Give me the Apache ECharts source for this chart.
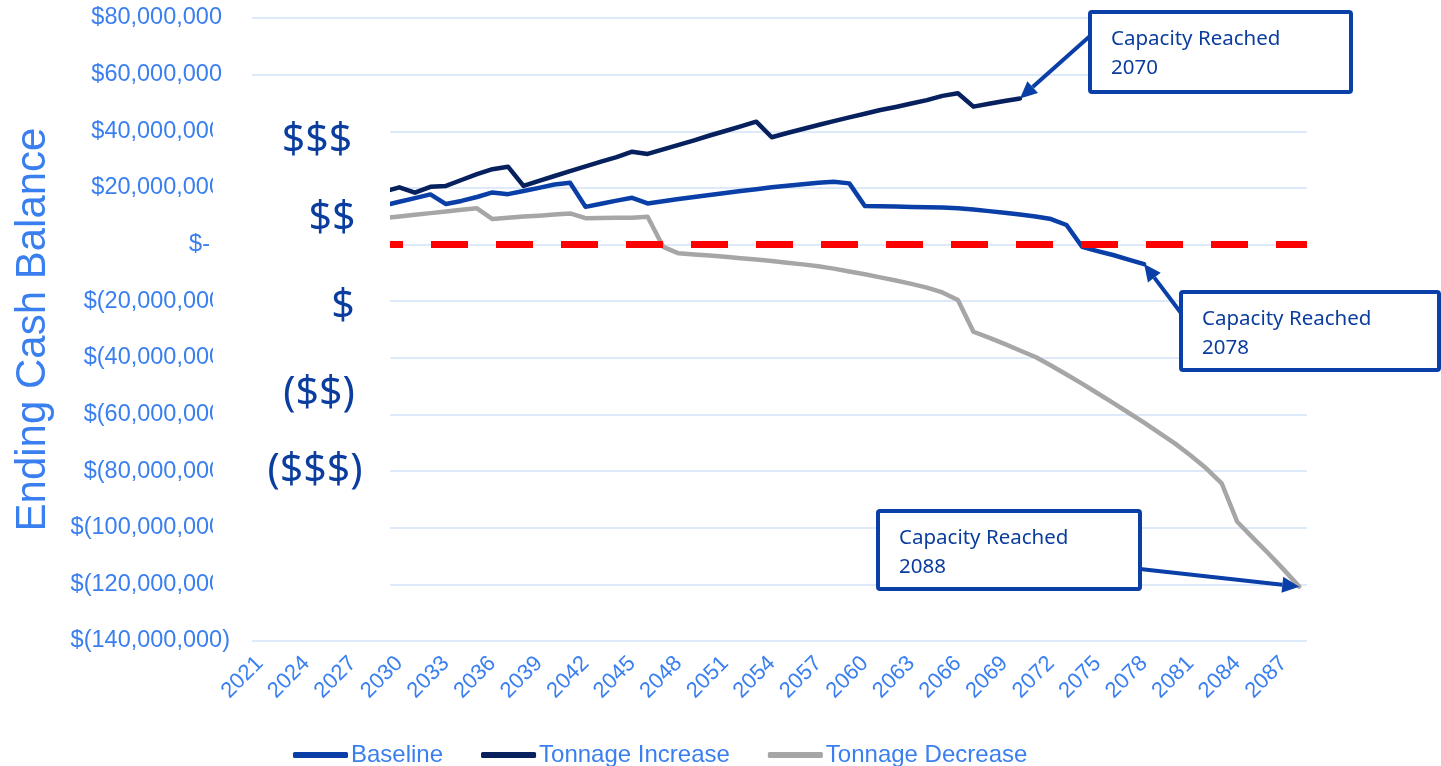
<!DOCTYPE html>
<html>
<head>
<meta charset="utf-8">
<script src="https://cdn.jsdelivr.net/npm/echarts@6/dist/echarts.min.js"></script>
<style>html,body{margin:0;padding:0;background:#fff}#c{width:1441px;height:766px}</style>
</head>
<body>
<div id="c"></div>
<script>
// ---- data (values in millions of dollars) ----
const years = [];
for (let y = 2021; y <= 2088; y++) years.push(String(y));

const firstYear = 2029;
const baseline = [13.8,15.1,16.4,17.7,14.3,15.4,16.8,18.4,17.8,18.9,20.0,21.2,21.8,13.3,14.4,15.5,16.5,14.5,15.3,16.1,16.8,17.5,18.2,18.9,19.5,20.2,20.8,21.3,21.8,22.2,21.6,13.6,13.5,13.4,13.3,13.2,13.1,12.8,12.4,11.8,11.2,10.6,9.9,9.0,6.9,-0.8,-2.3,-3.7,-5.3,-6.9];
const tonnageIncrease = [18.7,20.2,18.3,20.4,20.7,22.8,24.9,26.6,27.5,20.7,22.5,24.2,25.9,27.6,29.3,30.9,32.8,32.0,33.6,35.2,36.8,38.5,40.1,41.7,43.4,37.9,39.4,40.8,42.2,43.6,44.9,46.2,47.5,48.6,49.8,51.0,52.5,53.4,48.7,49.7,50.7,51.6];
const tonnageDecrease = [9.4,9.9,10.5,11.1,11.7,12.3,12.8,9.0,9.5,9.9,10.2,10.6,11.0,9.3,9.4,9.5,9.5,9.8,-0.8,-3.1,-3.5,-3.9,-4.3,-4.8,-5.3,-5.8,-6.4,-7.0,-7.7,-8.5,-9.5,-10.5,-11.6,-12.7,-13.9,-15.2,-16.9,-19.6,-30.8,-32.9,-35.1,-37.4,-39.7,-42.7,-45.9,-49.1,-52.5,-55.9,-59.4,-62.9,-66.6,-70.3,-74.5,-79.0,-84.3,-97.9,-103.5,-109.0,-114.8,-120.8];
const seriesNames = ['Baseline','Tonnage Increase','Tonnage Decrease'];
const sideLabels = ['$$$','$$','$','($$)','($$$)'];
const annotations = [
  {text:'Capacity Reached\n2070', series:1, year:'2070'},
  {text:'Capacity Reached\n2078', series:0, year:'2078'},
  {text:'Capacity Reached\n2088', series:2, year:'2088'}
];

function pad(arr){
  const out = years.map(()=>null);
  const off = firstYear - 2021;
  arr.forEach((v,i)=>{ out[off+i] = v; });
  return out;
}

const BLUE_TXT = '#3a7ff0';
const DARK = '#0a3d9e';
const colors = ['#0a3fa8','#06215e','#a6a6a6'];

function acct(v){
  const d = Math.round(v*1e6);
  if (d === 0) return '{z|$-}';
  const s = Math.abs(d).toLocaleString('en-US');
  return d < 0 ? '{n|$(' + s + ')}' : '{p|$' + s + '}';
}
const lblFont = {fontFamily:'Liberation Sans, Arial', fontSize:23.5, color:BLUE_TXT};

const chart = echarts.init(document.getElementById('c'), null, {renderer:'canvas'});
const option = {
  backgroundColor:'#ffffff',
  animation:false,
  color: colors,
  grid:{left:252, right:134, top:18, bottom:125, containLabel:false},
  legend:{
    left:288, top:738, itemWidth:55, itemHeight:6, itemGap:38, icon:'roundRect',
    textStyle:{fontFamily:'Liberation Sans, Arial', fontSize:24, color:BLUE_TXT, padding:[0,0,0,-2]},
    data: seriesNames
  },
  xAxis:{
    type:'category', data:years, boundaryGap:true,
    axisLine:{show:false}, axisTick:{show:false},
    axisLabel:{interval:2, rotate:45, margin:19, fontFamily:'Liberation Sans, Arial', fontSize:22, color:BLUE_TXT},
    splitLine:{show:false}
  },
  yAxis:{
    type:'value', min:-140, max:80, interval:20,
    name:'Ending Cash Balance', nameLocation:'middle', nameGap:198, nameRotate:90,
    nameTextStyle:{fontFamily:'Liberation Sans, Arial', fontSize:42, color:BLUE_TXT},
    axisLine:{show:false}, axisTick:{show:false},
    axisLabel:{margin:22, formatter:acct, ...lblFont,
      rich:{
        p:{...lblFont, padding:[0,8,0,0]},
        z:{...lblFont, padding:[0,20,0,0]},
        n:{...lblFont}
      }},
    splitLine:{lineStyle:{color:'#d3e2f8', width:1.5}}
  },
  series:[
    {name:seriesNames[0], type:'line', data:pad(baseline), showSymbol:false, symbol:'none',
     lineStyle:{width:4.5, color:colors[0], join:'round', cap:'round'}, z:3,
     markLine:{silent:true, symbol:'none', label:{show:false},
       lineStyle:{color:'#ff0000', width:7, type:[37,28], dashOffset:16},
       data:[{yAxis:0}]}},
    {name:seriesNames[1], type:'line', data:pad(tonnageIncrease), showSymbol:false, symbol:'none',
     lineStyle:{width:4.5, color:colors[1], join:'round', cap:'round'}, z:3},
    {name:seriesNames[2], type:'line', data:pad(tonnageDecrease), showSymbol:false, symbol:'none',
     lineStyle:{width:4.5, color:colors[2], join:'round', cap:'round'}, z:3}
  ]
};
chart.setOption(option);

// ---- decorations: white panel with $ scale, annotation boxes and arrows ----
const seriesData = [baseline, tonnageIncrease, tonnageDecrease];
const g = [];
g.push({type:'rect', shape:{x:213, y:107, width:177, height:500}, style:{fill:'#ffffff'}, z:50, silent:true});
const sidePos = [[317,141],[332,219],[343,307],[319,394],[315,471]];
sideLabels.forEach((t,i)=>{
  g.push({type:'text', x:sidePos[i][0], y:sidePos[i][1], z:51, silent:true,
    style:{text:t, fill:DARK, font:'41px "Noto Sans", sans-serif', textAlign:'center', textVerticalAlign:'middle'}});
});
const boxes = [
  {x:1090, y:12, w:261, h:80, from:[1090,36]},
  {x:1181, y:292, w:258, h:78, from:[1181,313]},
  {x:878, y:511, w:262, h:78, from:[1140,569]}
];
function arrow(x1,y1,x2,y2){
  const dx=x2-x1, dy=y2-y1, L=Math.hypot(dx,dy), ux=dx/L, uy=dy/L;
  const hl=17, hw=8;
  const bx=x2-ux*hl, by=y2-uy*hl;
  g.push({type:'line', z:52, silent:true, shape:{x1:x1,y1:y1,x2:bx,y2:by},
    style:{stroke:'#0a3fa8', lineWidth:4}});
  g.push({type:'polygon', z:52, silent:true,
    shape:{points:[[x2,y2],[bx-uy*hw,by+ux*hw],[bx+uy*hw,by-ux*hw]]},
    style:{fill:'#0a3fa8'}});
}
annotations.forEach((a,i)=>{
  const b = boxes[i];
  const arr = seriesData[a.series];
  const idx = Number(a.year) - firstYear;
  const p = chart.convertToPixel({seriesIndex:a.series}, [a.year, arr[idx]]);
  arrow(b.from[0], b.from[1], p[0], p[1]);
  g.push({type:'rect', z:53, silent:true, shape:{x:b.x, y:b.y, width:b.w, height:b.h, r:2},
    style:{fill:'#ffffff', stroke:'#0a3fa8', lineWidth:4}});
  g.push({type:'text', z:54, silent:true, x:b.x+21, y:b.y+13,
    style:{text:a.text, fill:DARK, font:'20.5px "Noto Sans", sans-serif', lineHeight:29, textVerticalAlign:'top'}});
});
chart.setOption({graphic:g});
</script>
</body>
</html>
